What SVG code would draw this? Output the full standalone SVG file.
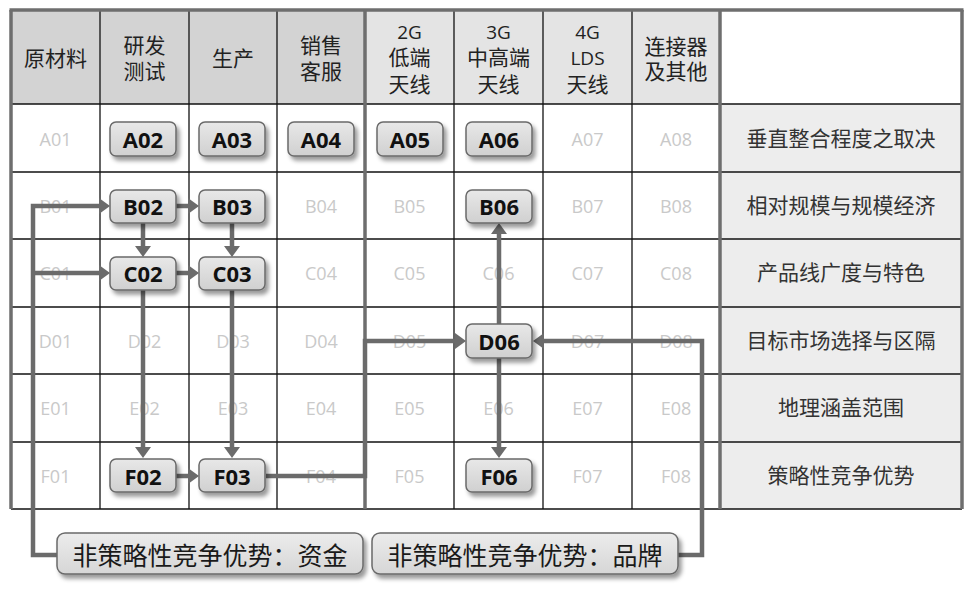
<svg xmlns="http://www.w3.org/2000/svg" width="973" height="592" viewBox="0 0 973 592">
<defs>
<style>
.hd{font-family:"Liberation Serif","Noto Sans CJK SC",serif;font-size:21px;fill:#222;text-anchor:middle;dominant-baseline:central}
.hl{font-family:"Open Sans","Noto Sans CJK SC",sans-serif;font-size:19px;fill:#222;text-anchor:middle;dominant-baseline:central}
.rl{font-family:"Liberation Serif","Noto Sans CJK SC",serif;font-size:21px;fill:#333;text-anchor:middle;dominant-baseline:central}
.fd{font-family:"Open Sans",sans-serif;font-size:18px;fill:#c9c9c9;text-anchor:middle;dominant-baseline:central}
.nd rect{fill:url(#ng);stroke:#6a6a6a;stroke-width:1.5;filter:url(#sh)}
.nd text{font-family:"Open Sans",sans-serif;font-weight:bold;font-size:22px;fill:#111;text-anchor:middle;dominant-baseline:central}
.bx rect{fill:url(#bg);stroke:#6a6a6a;stroke-width:1.5;filter:url(#sh)}
.bx text{font-family:"Noto Sans CJK SC",sans-serif;font-size:25px;fill:#1a1a1a;text-anchor:middle;dominant-baseline:central}
.thin{stroke:#111;stroke-width:1.3}
.thick{stroke:#6e6e6e;stroke-width:3.5}
.cn{fill:none;stroke:#6b6b6b;stroke-width:4.5;marker-end:url(#ah)}
</style>
<linearGradient id="ng" x1="0" y1="0" x2="0" y2="1"><stop offset="0" stop-color="#e8e8e8"/><stop offset="1" stop-color="#d0d0d0"/></linearGradient>
<linearGradient id="bg" x1="0" y1="0" x2="0" y2="1"><stop offset="0" stop-color="#ececec"/><stop offset="1" stop-color="#d6d6d6"/></linearGradient>
<filter id="sh" x="-20%" y="-30%" width="150%" height="180%"><feDropShadow dx="3" dy="4" stdDeviation="2" flood-color="#000" flood-opacity="0.4"/></filter>
<marker id="ah" markerUnits="userSpaceOnUse" markerWidth="12" markerHeight="18" viewBox="0 0 12 18" refX="0" refY="8" orient="auto"><path d="M0,0 L11,8 L0,16 z" fill="#6b6b6b"/></marker>
</defs>
<rect width="973" height="592" fill="#fff"/>
<g id="table">
<rect x="11" y="10" width="354" height="94" fill="#d3d3d3"/>
<rect x="365" y="10" width="355" height="94" fill="#e4e4e4"/>
<rect x="720" y="104" width="242" height="405" fill="#ededed"/>
<g class="thin">
<line x1="11" y1="104" x2="962" y2="104"/>
<line x1="11" y1="172" x2="962" y2="172"/>
<line x1="11" y1="239" x2="962" y2="239"/>
<line x1="11" y1="307" x2="962" y2="307"/>
<line x1="11" y1="374" x2="962" y2="374"/>
<line x1="11" y1="442" x2="962" y2="442"/>
<line x1="11" y1="509" x2="962" y2="509"/>
<line x1="100" y1="10" x2="100" y2="509"/>
<line x1="189" y1="10" x2="189" y2="509"/>
<line x1="277" y1="10" x2="277" y2="509"/>
<line x1="454" y1="10" x2="454" y2="509"/>
<line x1="543" y1="10" x2="543" y2="509"/>
<line x1="632" y1="10" x2="632" y2="509"/>
</g>
<g class="thick">
<line x1="9.5" y1="10" x2="963.5" y2="10"/>
<line x1="11" y1="10" x2="11" y2="509"/>
<line x1="962" y1="10" x2="962" y2="509"/>
<line x1="365" y1="10" x2="365" y2="509"/>
<line x1="720" y1="10" x2="720" y2="509"/>
</g>
<text class="hd" x="55.5" y="59">原材料</text>
<text class="hd" x="144.5" y="46">研发</text><text class="hd" x="144.5" y="72">测试</text>
<text class="hd" x="233" y="59">生产</text>
<text class="hd" x="321" y="46">销售</text><text class="hd" x="321" y="72">客服</text>
<text class="hl" x="409.5" y="32">2G</text><text class="hd" x="409.5" y="58">低端</text><text class="hd" x="409.5" y="85">天线</text>
<text class="hl" x="498.5" y="32">3G</text><text class="hd" x="498.5" y="58">中高端</text><text class="hd" x="498.5" y="85">天线</text>
<text class="hl" x="587.5" y="32">4G</text><text class="hl" x="587.5" y="58">LDS</text><text class="hd" x="587.5" y="85">天线</text>
<text class="hd" x="676" y="47">连接器</text><text class="hd" x="676" y="72">及其他</text>
<text class="rl" x="841" y="139">垂直整合程度之取决</text>
<text class="rl" x="841" y="206">相对规模与规模经济</text>
<text class="rl" x="841" y="273">产品线广度与特色</text>
<text class="rl" x="841" y="341">目标市场选择与区隔</text>
<text class="rl" x="841" y="408">地理涵盖范围</text>
<text class="rl" x="841" y="476">策略性竞争优势</text>
<text class="fd" x="55.5" y="139">A01</text><text class="fd" x="587.5" y="139">A07</text><text class="fd" x="676" y="139">A08</text>
<text class="fd" x="55.5" y="206">B01</text><text class="fd" x="321" y="206">B04</text><text class="fd" x="409.5" y="206">B05</text><text class="fd" x="587.5" y="206">B07</text><text class="fd" x="676" y="206">B08</text>
<text class="fd" x="55.5" y="273">C01</text><text class="fd" x="321" y="273">C04</text><text class="fd" x="409.5" y="273">C05</text><text class="fd" x="498.5" y="273">C06</text><text class="fd" x="587.5" y="273">C07</text><text class="fd" x="676" y="273">C08</text>
<text class="fd" x="55.5" y="341">D01</text><text class="fd" x="144.5" y="341">D02</text><text class="fd" x="233" y="341">D03</text><text class="fd" x="321" y="341">D04</text><text class="fd" x="409.5" y="341">D05</text><text class="fd" x="587.5" y="341">D07</text><text class="fd" x="676" y="341">D08</text>
<text class="fd" x="55.5" y="408">E01</text><text class="fd" x="144.5" y="408">E02</text><text class="fd" x="233" y="408">E03</text><text class="fd" x="321" y="408">E04</text><text class="fd" x="409.5" y="408">E05</text><text class="fd" x="498.5" y="408">E06</text><text class="fd" x="587.5" y="408">E07</text><text class="fd" x="676" y="408">E08</text>
<text class="fd" x="55.5" y="476">F01</text><text class="fd" x="321" y="476">F04</text><text class="fd" x="409.5" y="476">F05</text><text class="fd" x="587.5" y="476">F07</text><text class="fd" x="676" y="476">F08</text>
</g>
<g id="connectors">
<path class="cn" d="M57,555 H33 V206 H99"/>
<path class="cn" d="M33,273 H99"/>
<path class="cn" d="M176,206 H188"/>
<path class="cn" d="M176,273 H188"/>
<path class="cn" d="M176,476 H188"/>
<path class="cn" d="M143,223 V246"/>
<path class="cn" d="M232,223 V246"/>
<path class="cn" d="M143,290 V447"/>
<path class="cn" d="M232,290 V447"/>
<path class="cn" d="M266,476 H365 V341 H455"/>
<path class="cn" d="M499,324 V234"/>
<path class="cn" d="M499,358 V447"/>
<path class="cn" d="M678,555 H702 V341 H544"/>
</g>
<g id="A02" class="nd"><rect x="110" y="122" width="66" height="34" rx="6"/><text x="143" y="139">A02</text></g>
<g id="A03" class="nd"><rect x="199" y="122" width="66" height="34" rx="6"/><text x="232" y="139">A03</text></g>
<g id="A04" class="nd"><rect x="288" y="122" width="66" height="34" rx="6"/><text x="321" y="139">A04</text></g>
<g id="A05" class="nd"><rect x="377" y="122" width="66" height="34" rx="6"/><text x="410" y="139">A05</text></g>
<g id="A06" class="nd"><rect x="466" y="122" width="66" height="34" rx="6"/><text x="499" y="139">A06</text></g>
<g id="B02" class="nd"><rect x="110" y="190" width="66" height="33" rx="6"/><text x="143" y="206">B02</text></g>
<g id="B03" class="nd"><rect x="199" y="190" width="66" height="33" rx="6"/><text x="232" y="206">B03</text></g>
<g id="B06" class="nd"><rect x="466" y="190" width="66" height="33" rx="6"/><text x="499" y="206">B06</text></g>
<g id="C02" class="nd"><rect x="110" y="257" width="66" height="33" rx="6"/><text x="143" y="273">C02</text></g>
<g id="C03" class="nd"><rect x="199" y="257" width="66" height="33" rx="6"/><text x="232" y="273">C03</text></g>
<g id="D06" class="nd"><rect x="466" y="324" width="66" height="34" rx="6"/><text x="499" y="341">D06</text></g>
<g id="F02" class="nd"><rect x="110" y="459" width="66" height="33" rx="6"/><text x="143" y="476">F02</text></g>
<g id="F03" class="nd"><rect x="199" y="459" width="66" height="33" rx="6"/><text x="232" y="476">F03</text></g>
<g id="F06" class="nd"><rect x="466" y="459" width="66" height="33" rx="6"/><text x="499" y="476">F06</text></g>
<g id="funds" class="bx"><rect x="57" y="533" width="306" height="41" rx="8"/><text x="210" y="554">非策略性竞争优势：资金</text></g>
<g id="brand" class="bx"><rect x="372" y="533" width="306" height="41" rx="8"/><text x="525" y="554">非策略性竞争优势：品牌</text></g>
</svg>
